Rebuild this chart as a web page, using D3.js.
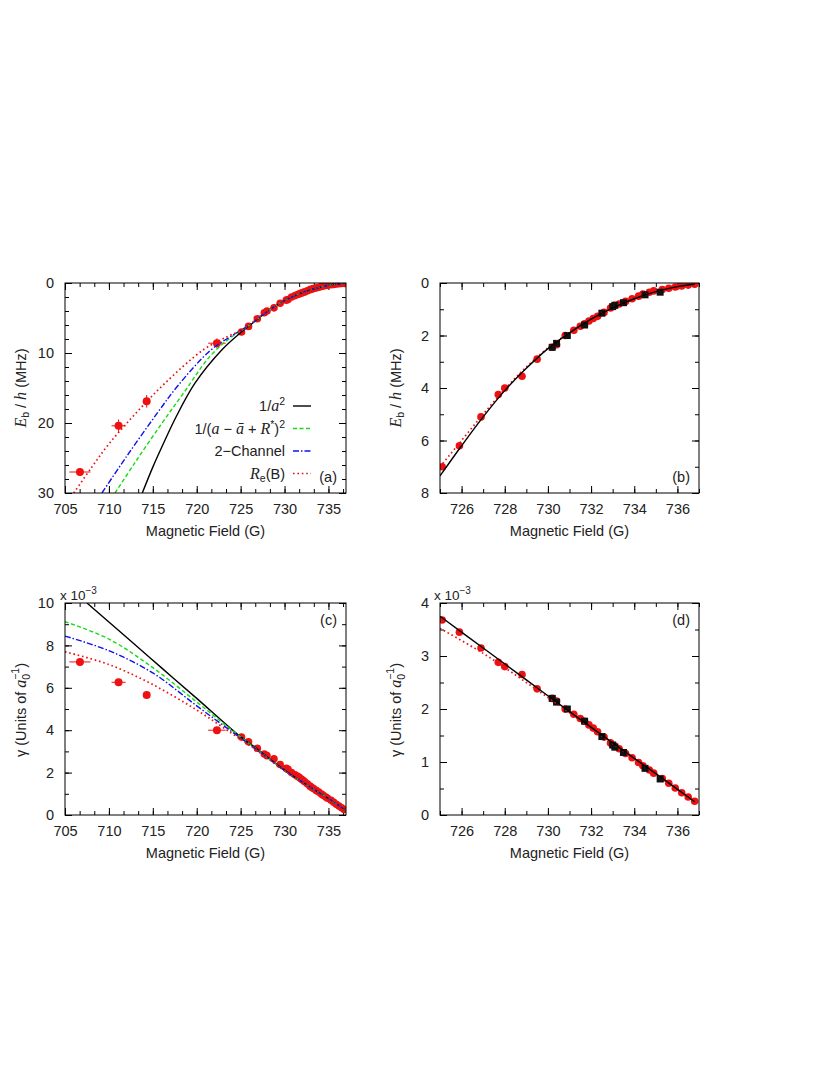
<!DOCTYPE html>
<html><head><meta charset="utf-8">
<script src="https://cdn.jsdelivr.net/npm/d3@7"></script>
<style>body{margin:0;background:#fff}text{font-family:"Liberation Sans",Arial,sans-serif;fill:#222}</style>
</head><body><svg id="c" width="830" height="1075"></svg>
<script>
// ---- data ----
// fitted curves, Eb/h (MHz) vs B (G), panel (a)
const curveBlackE = [[713.8,30],[715,26.3],[716,23.5],[717.7,19],[719.8,14.3],[722.9,9.5],[724.8,7.3],[726,6.1],[727,5.1],[728,4.1],[729,3.25],[730,2.5],[731,1.9],[732,1.38],[733,0.95],[734,0.6],[735,0.33],[736,0.14],[737,0.02]];
const curveGreenE = [[710.7,30],[713,25.6],[716,20.1],[718.4,15.9],[721.7,10.2],[724.2,7.5],[726,6.05],[727,5.05],[728,4.1],[729,3.25],[730,2.5],[732,1.38],[734,0.6],[736,0.14],[737,0.02]];
const curveBlueE  = [[709.2,30],[712,24.8],[715.5,18.6],[717.9,14.6],[721.5,9.7],[724.1,7.45],[726,6.0],[727,5.03],[728,4.1],[729,3.25],[730,2.5],[732,1.38],[734,0.6],[736,0.14],[737,0.02]];
const curveRedE   = [[706,30],[708,26.4],[710,23.0],[713,18.7],[716.4,14.3],[720.8,9.5],[723.6,7.6],[725,6.8],[726,5.95],[727,5.0],[728,4.05],[729,3.22],[730,2.48],[732,1.37],[734,0.6],[736,0.14],[737,0.02]];
// panel (b) curves
const curveBlackEb = [[725,7.35],[726,6.2],[727,5.1],[728,4.1],[729,3.25],[730,2.5],[731,1.9],[732,1.38],[733,0.95],[734,0.6],[735,0.33],[736,0.14],[736.8,0.05]];
const curveRedEb   = [[725,7.0],[726,6.0],[727,5.0],[728,4.05],[729,3.2],[730,2.48],[731,1.88],[732,1.37],[733,0.95],[734,0.6],[735,0.33],[736,0.14],[736.8,0.05]];
// gamma (1e-3 / a0) curves, panel (c)
const curveBlackG = [[707.5,10.0],[712,8.38],[716,6.94],[720,5.5],[724.9,3.72],[727,3.08],[730,2.12],[733,1.3],[735,0.78],[737,0.22]];
const curveGreenG = [[705,9.12],[710,8.3],[715,6.95],[720,5.33],[724,4.0],[727,3.05],[730,2.1],[733,1.3],[735,0.78],[737,0.22]];
const curveBlueG  = [[705,8.44],[710,7.75],[715,6.7],[720,5.15],[724,3.93],[727,3.03],[730,2.1],[733,1.3],[735,0.78],[737,0.22]];
const curveRedG   = [[705,7.7],[710,7.1],[715,6.15],[720,4.95],[724,3.85],[727,3.0],[730,2.08],[733,1.3],[735,0.78],[737,0.22]];
// panel (d)
const curveBlackGd = [[725,3.75],[727,3.15],[729,2.55],[731,1.95],[733,1.36],[735,0.78],[736.8,0.25]];
const curveRedGd   = [[725,3.52],[727,3.05],[729,2.5],[731,1.93],[733,1.35],[735,0.78],[736.8,0.25]];
// far-field measurements (a),(c): B, xerr, E, Eerr, gamma
const farB   = [706.7, 711.1, 714.3, 722.3];
const farBe  = [1.2, 0.8, 0.3, 1.0];
const farE   = [27.0, 20.4, 16.9, 8.6];
const farEe  = [0.3, 0.9, 0.9, 0.7];
const farG   = [7.22, 6.26, 5.66, 4.0];
// near-field red points
const nearB = [725.1,725.9,726.9,727.7,728.0,728.8,729.5,730.2,730.4,730.8,731.2,731.5,731.7,731.9,732.1,732.3,732.6,732.9,733.1,733.3,733.6,733.9,734.2,734.4,734.7,734.9,735.3,735.6,735.9,736.2,736.5,736.8];
const nearE = [7.0,6.2,5.1,4.25,4.0,3.55,2.9,2.45,2.35,2.0,1.8,1.65,1.55,1.45,1.35,1.27,1.12,0.95,0.85,0.8,0.7,0.6,0.5,0.42,0.35,0.3,0.25,0.2,0.15,0.11,0.08,0.05];
const nearG = [3.68,3.45,3.15,2.88,2.8,2.65,2.38,2.2,2.15,2.0,1.9,1.82,1.77,1.7,1.64,1.57,1.47,1.36,1.3,1.25,1.16,1.08,0.99,0.93,0.85,0.79,0.69,0.6,0.51,0.42,0.34,0.26];
// black squares
const sqB = [730.2,730.4,730.9,731.7,732.5,733.0,733.1,733.5,734.5,735.2];
const sqE = [2.45,2.3,2.0,1.6,1.15,0.9,0.85,0.75,0.45,0.35];
const sqG = [2.2,2.13,2.0,1.77,1.48,1.32,1.28,1.18,0.88,0.68];

const svg = d3.select("#c");
const styles = {
 black:{c:"#000",d:null,w:1.4},
 green:{c:"#11dd11",d:"4,2.5",w:1.4},
 blue:{c:"#1010ee",d:"6,2,1.5,2",w:1.4},
 red:{c:"#ee1111",d:"1.6,2.8",w:1.7}
};
const FS=14.5;
function panel(o){
  const g = svg.append("g");
  const x = d3.scaleLinear().domain(o.xd).range([o.L,o.R]);
  const y = d3.scaleLinear().domain(o.yd).range([o.B,o.T]);
  g.append("clipPath").attr("id","cp"+o.id).append("rect").attr("x",o.L).attr("y",o.T).attr("width",o.R-o.L).attr("height",o.B-o.T);
  const xm=d3.range(o.xd[0],o.xd[1]+1e-9,o.xmin), ym=d3.range(Math.min(...o.yd),Math.max(...o.yd)+1e-9,o.ymin);
  const xM=o.xt, yM=o.yt;
  const add=(axis,tr)=>{const a=g.append("g").attr("transform",tr).call(axis);a.select(".domain").remove();a.selectAll("line").attr("stroke","#000");a.selectAll("text").attr("font-size",FS).attr("fill","#222").attr("font-family","Liberation Sans,Arial,sans-serif");return a;};
  add(d3.axisBottom(x).tickValues(xM).tickSize(-7).tickPadding(11).tickFormat(d3.format("d")),`translate(0,${o.B})`);
  add(d3.axisBottom(x).tickValues(xm).tickSize(-4).tickFormat(""),`translate(0,${o.B})`);
  add(d3.axisTop(x).tickValues(xM).tickSize(-7).tickFormat(""),`translate(0,${o.T})`);
  add(d3.axisTop(x).tickValues(xm).tickSize(-4).tickFormat(""),`translate(0,${o.T})`);
  add(d3.axisLeft(y).tickValues(yM).tickSize(-7).tickPadding(11).tickFormat(d3.format("d")),`translate(${o.L},0)`);
  add(d3.axisLeft(y).tickValues(ym).tickSize(-4).tickFormat(""),`translate(${o.L},0)`);
  add(d3.axisRight(y).tickValues(yM).tickSize(-7).tickFormat(""),`translate(${o.R},0)`);
  add(d3.axisRight(y).tickValues(ym).tickSize(-4).tickFormat(""),`translate(${o.R},0)`);
  const cg=g.append("g").attr("clip-path",`url(#cp${o.id})`);
  const line=d3.line().x(d=>x(d[0])).y(d=>y(d[1])).curve(d3.curveCatmullRom.alpha(0.5));
  const dots=cg.append("g");
  if(o.far){o.far.forEach(p=>{
    dots.append("line").attr("x1",x(p.b-p.be)).attr("x2",x(p.b+p.be)).attr("y1",y(p.v)).attr("y2",y(p.v)).attr("stroke","#e11");
    if(p.ve){dots.append("line").attr("x1",x(p.b)).attr("x2",x(p.b)).attr("y1",y(p.v-p.ve)).attr("y2",y(p.v+p.ve)).attr("stroke","#e11");}
    dots.append("circle").attr("cx",x(p.b)).attr("cy",y(p.v)).attr("r",4).attr("fill","#ee1111");
  });}
  o.near.forEach(p=>dots.append("circle").attr("cx",x(p[0])).attr("cy",y(p[1])).attr("r",3.8).attr("fill","#ee1111"));
  if(o.sq) o.sq.forEach(p=>dots.append("rect").attr("x",x(p[0])-3.5).attr("y",y(p[1])-3.5).attr("width",7).attr("height",7).attr("fill","#111"));
  o.curves.forEach(c=>{const s=styles[c.s];cg.append("path").attr("d",line(c.d)).attr("fill","none").attr("stroke",s.c).attr("stroke-width",s.w).attr("stroke-dasharray",s.d);});
  g.append("rect").attr("x",o.L).attr("y",o.T).attr("width",o.R-o.L).attr("height",o.B-o.T).attr("fill","none").attr("stroke","#000");
  g.append("text").attr("x",o.R-9).attr("y",o.tagTop?o.T+22:o.B-11).attr("text-anchor","end").attr("font-size",FS).text(o.tag);
  g.append("text").attr("x",(o.L+o.R)/2).attr("y",o.B+43).attr("text-anchor","middle").attr("font-size",FS).text("Magnetic Field (G)");
  return {g,x,y};
}
const fmtPairs=(B,V)=>B.map((b,i)=>[b,V[i]]);
const pa=panel({id:"a",L:65,R:346,T:283,B:493,xd:[705,737],yd:[30,0],xt:[705,710,715,720,725,730,735],xmin:5/3,yt:[0,10,20,30],ymin:2,tag:"(a)",
 far:farB.map((b,i)=>({b,be:farBe[i],v:farE[i],ve:farEe[i]})),near:fmtPairs(nearB,nearE),
 curves:[{s:"black",d:curveBlackE},{s:"green",d:curveGreenE},{s:"blue",d:curveBlueE},{s:"red",d:curveRedE}]});
panel({id:"b",L:440,R:699,T:283,B:493,xd:[725,737],yd:[8,0],xt:[726,728,730,732,734,736],xmin:1,yt:[0,2,4,6,8],ymin:1,tag:"(b)",
 near:fmtPairs(nearB,nearE),sq:fmtPairs(sqB,sqE),curves:[{s:"red",d:curveRedEb},{s:"black",d:curveBlackEb}]});
panel({id:"c",L:65,R:346,T:603,B:815,xd:[705,737],yd:[0,10],xt:[705,710,715,720,725,730,735],xmin:5/3,yt:[0,2,4,6,8,10],ymin:1,tag:"(c)",tagTop:true,
 far:farB.map((b,i)=>({b,be:farBe[i],v:farG[i]})),near:fmtPairs(nearB,nearG),
 curves:[{s:"black",d:curveBlackG},{s:"green",d:curveGreenG},{s:"blue",d:curveBlueG},{s:"red",d:curveRedG}]});
panel({id:"d",L:440,R:699,T:603,B:815,xd:[725,737],yd:[0,4],xt:[726,728,730,732,734,736],xmin:1,yt:[0,1,2,3,4],ymin:0.5,tag:"(d)",tagTop:true,
 near:fmtPairs(nearB,nearG),sq:fmtPairs(sqB,sqG),curves:[{s:"red",d:curveRedGd},{s:"black",d:curveBlackGd}]});

const it=(t,s)=>t.append("tspan").attr("font-style","italic").attr("font-family","Liberation Serif,serif").attr("font-size",16).text(s);
function ylabE(cx,cy){const t=svg.append("text").attr("transform",`translate(${cx},${cy}) rotate(-90)`).attr("text-anchor","middle").attr("font-size",FS);
 it(t,"E"); t.append("tspan").attr("font-size",10.5).attr("dy",3).text("b");
 t.append("tspan").attr("dy",-3).text(" / "); it(t,"h"); t.append("tspan").text(" (MHz)");}
ylabE(26,388); ylabE(401,388);
function ylabG(cx,cy){const t=svg.append("text").attr("transform",`translate(${cx},${cy}) rotate(-90)`).attr("text-anchor","middle").attr("font-size",FS);
 t.append("tspan").text("γ (Units of "); it(t,"a");
 t.append("tspan").attr("font-size",10.5).attr("dy",4).text("0");
 t.append("tspan").attr("font-size",10.5).attr("dy",-11).attr("dx",-6).text("−1");
 t.append("tspan").attr("dy",7).text(")");}
ylabG(26,710); ylabG(401,710);
[[60,603],[434,603]].forEach(([x0,y0])=>{const t=svg.append("text").attr("x",x0).attr("y",y0-3).attr("font-size",13.5);t.append("tspan").text("x 10");t.append("tspan").attr("font-size",10).attr("dy",-6).text("−3");});

// legend in (a)
const leg=pa.g.append("g");
const lk=["black","green","blue","red"];
const ly0=406, lsp=22.5;
lk.forEach((k,i)=>{const s=styles[k];const yy=ly0+i*lsp;
 leg.append("line").attr("x1",293).attr("x2",311).attr("y1",yy).attr("y2",yy).attr("stroke",s.c).attr("stroke-width",s.w).attr("stroke-dasharray",s.d);});
const lt=(i)=>leg.append("text").attr("x",285).attr("y",ly0+i*lsp+5).attr("text-anchor","end").attr("font-size",FS);
let t=lt(0);t.append("tspan").text("1/");it(t,"a");t.append("tspan").attr("font-size",10.5).attr("dy",-6).text("2");
t=lt(1);t.append("tspan").text("1/(");it(t,"a");t.append("tspan").text(" − ");it(t,"ā");t.append("tspan").text(" + ");it(t,"R");t.append("tspan").attr("font-size",10.5).attr("dy",-6).text("*");t.append("tspan").attr("dy",6).text(")");t.append("tspan").attr("font-size",10.5).attr("dy",-6).text("2");
t=lt(2);t.text("2−Channel");
t=lt(3);it(t,"R");t.append("tspan").attr("font-size",10.5).attr("dy",3).text("e");t.append("tspan").attr("dy",-3).text("(B)");
</script></body></html>
